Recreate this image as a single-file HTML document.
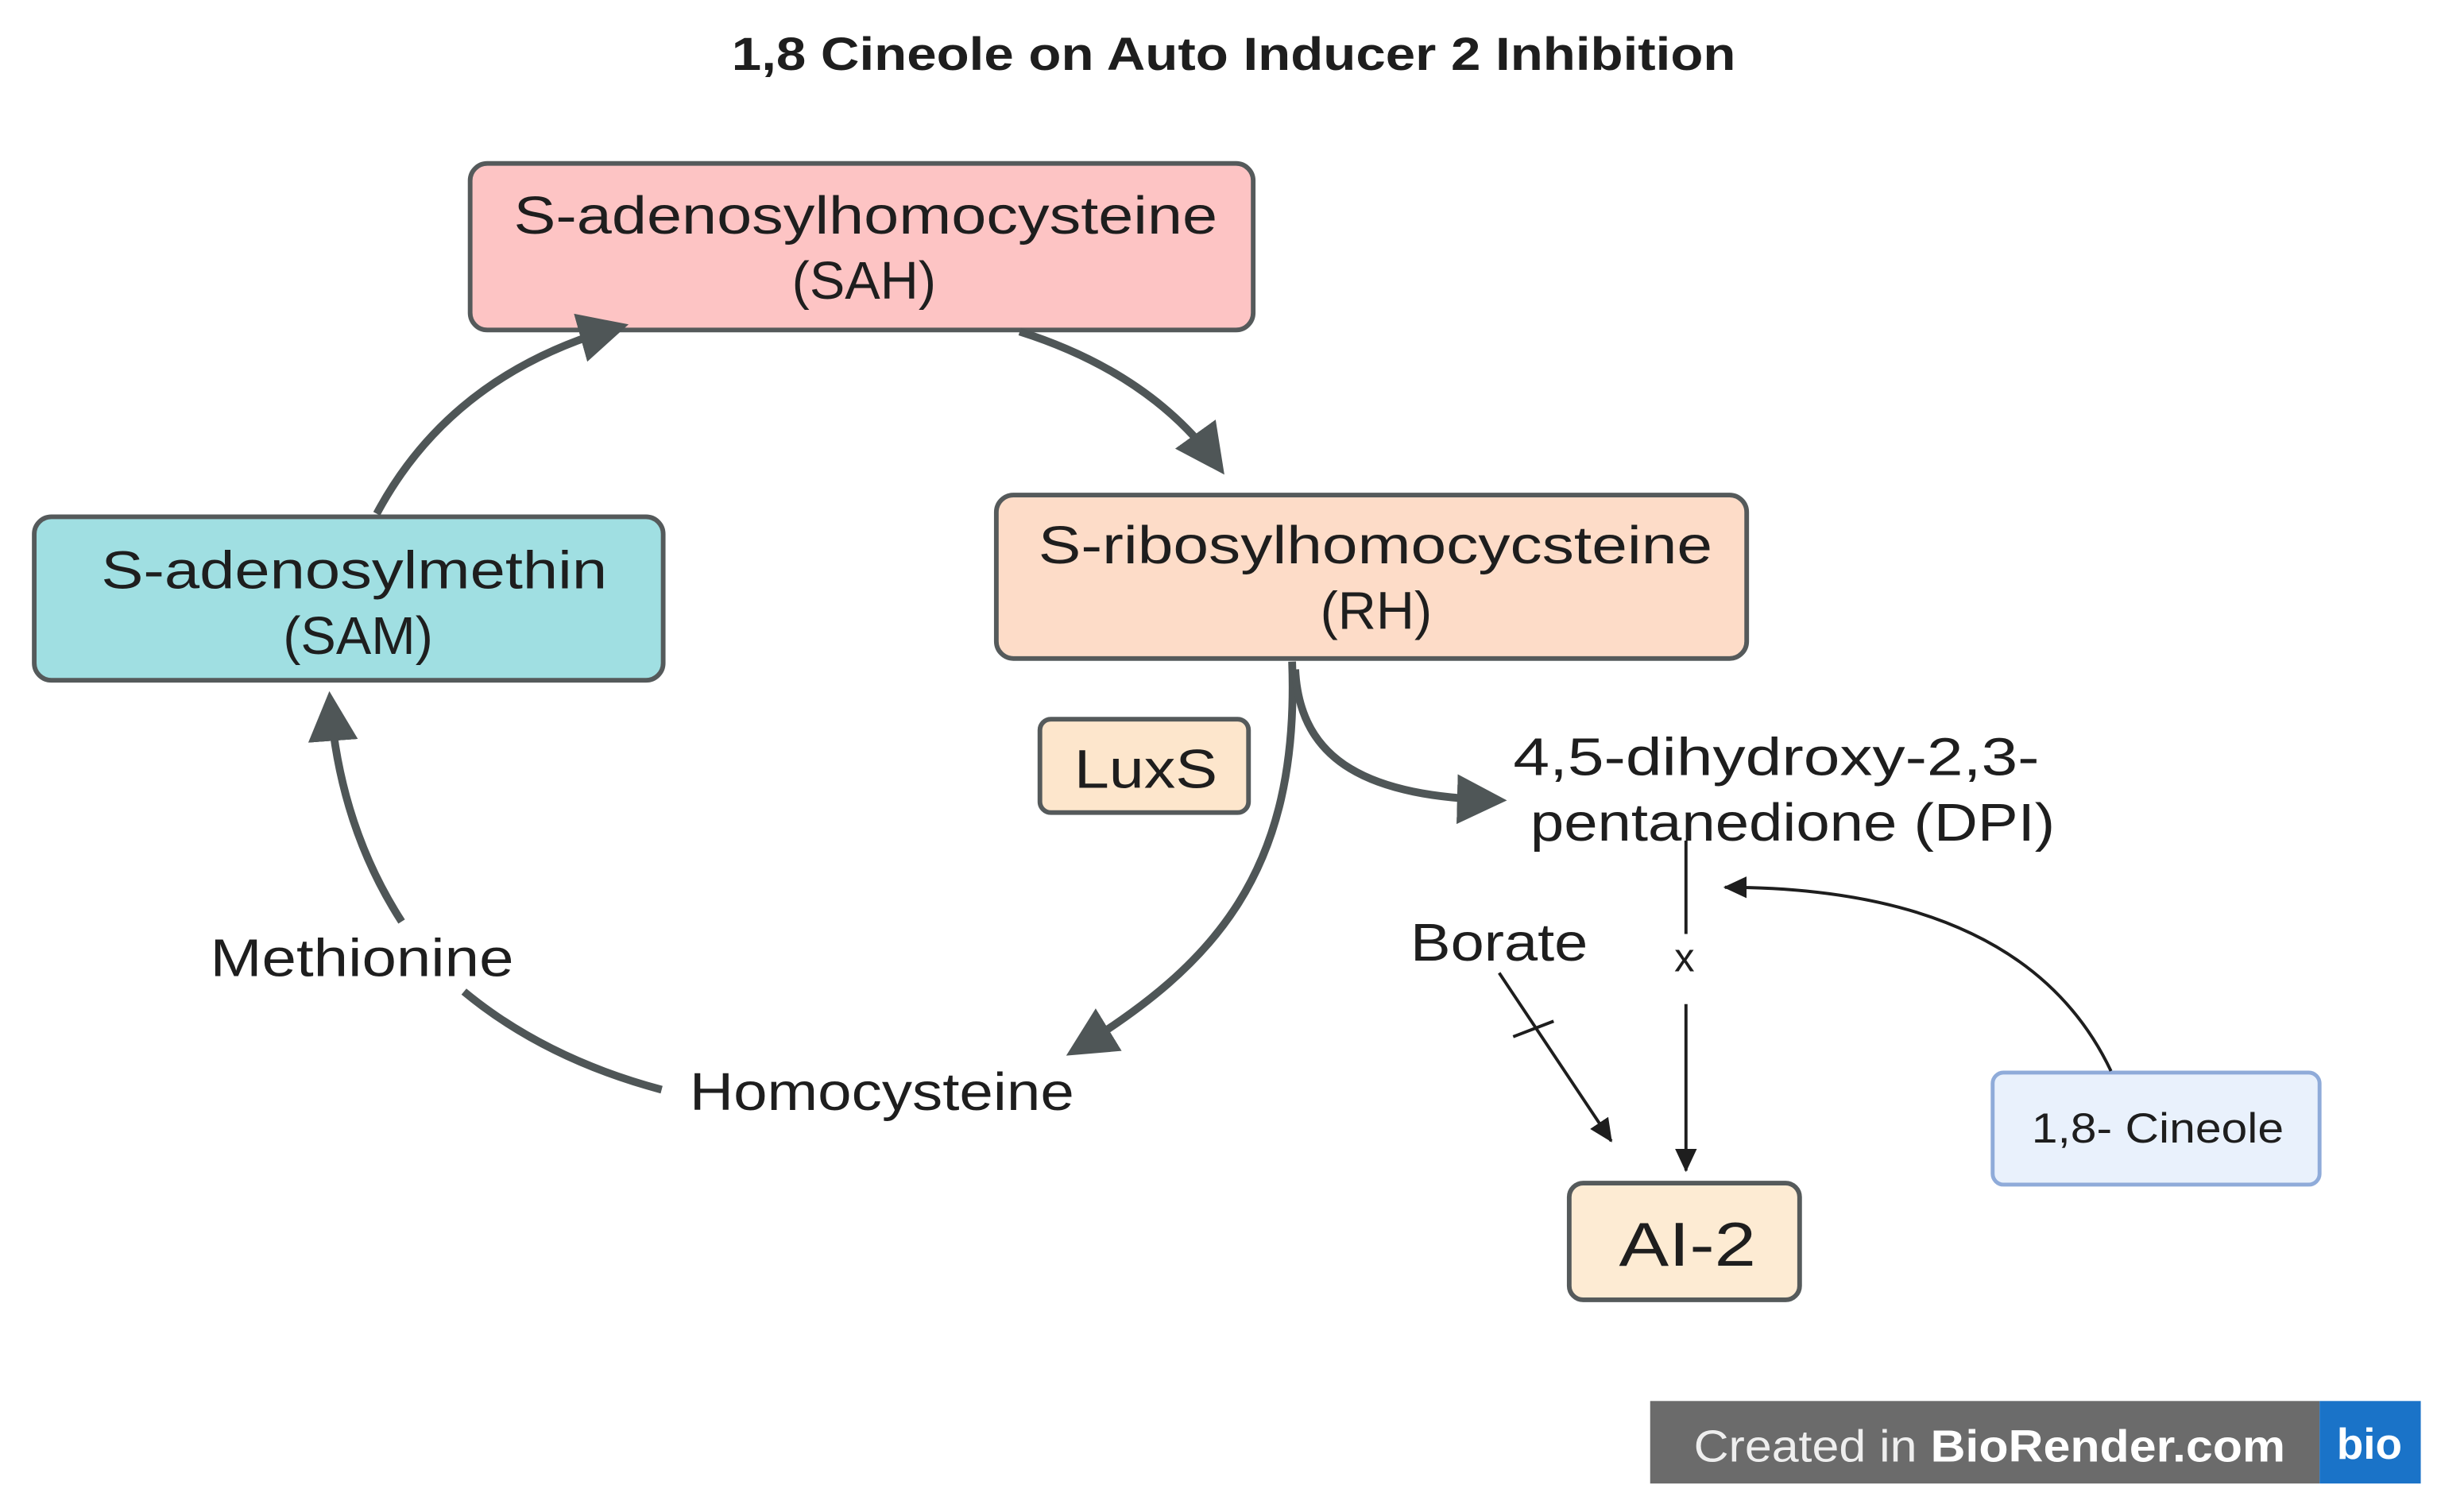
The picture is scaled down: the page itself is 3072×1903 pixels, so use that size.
<!DOCTYPE html>
<html><head><meta charset="utf-8"><style>
html,body{margin:0;padding:0;background:#fff;}
svg{display:block;}
text{font-family:"Liberation Sans",sans-serif;fill:#1e1e1e;}
</style></head><body>
<svg width="3072" height="1903" viewBox="0 0 1568 971.3" preserveAspectRatio="none" xmlns="http://www.w3.org/2000/svg">
<defs>
<marker id="big" markerUnits="userSpaceOnUse" markerWidth="40" markerHeight="40" refX="26" refY="16" orient="auto"><path d="M0,0 L32,16 L0,32 Z" fill="#4f5657"/></marker>
<marker id="sm" markerUnits="userSpaceOnUse" markerWidth="20" markerHeight="20" refX="14" refY="7" orient="auto"><path d="M0,0 L15,7 L0,14 Z" fill="#1e1e1e"/></marker>
</defs>
<text x="470" y="45" font-size="30" font-weight="bold" textLength="645" lengthAdjust="spacingAndGlyphs">1,8 Cineole on Auto Inducer 2 Inhibition</text>

<rect x="302" y="105" width="503" height="107" rx="11" fill="#fdc4c4" stroke="#555a5b" stroke-width="3"/>
<text x="330" y="150" font-size="34" textLength="452" lengthAdjust="spacingAndGlyphs">S-adenosylhomocysteine</text>
<text x="555" y="192" font-size="34" text-anchor="middle">(SAH)</text>

<rect x="22" y="332" width="404" height="105" rx="11" fill="#a0dfe2" stroke="#555a5b" stroke-width="3"/>
<text x="65" y="378" font-size="34" textLength="325" lengthAdjust="spacingAndGlyphs">S-adenosylmethin</text>
<text x="230" y="420" font-size="34" text-anchor="middle">(SAM)</text>

<rect x="640" y="318" width="482" height="105" rx="11" fill="#fddcc8" stroke="#555a5b" stroke-width="3"/>
<text x="667" y="362" font-size="34" textLength="433" lengthAdjust="spacingAndGlyphs">S-ribosylhomocycsteine</text>
<text x="884" y="404" font-size="34" text-anchor="middle">(RH)</text>

<rect x="668" y="462" width="134" height="60" rx="7" fill="#fde6cc" stroke="#555a5b" stroke-width="3"/>
<text x="690" y="506" font-size="35" textLength="92" lengthAdjust="spacingAndGlyphs">LuxS</text>

<text x="972" y="498" font-size="34" textLength="338" lengthAdjust="spacingAndGlyphs">4,5-dihydroxy-2,3-</text>
<text x="983" y="540" font-size="34" textLength="337" lengthAdjust="spacingAndGlyphs">pentanedione (DPI)</text>
<text x="906" y="617" font-size="34" textLength="114" lengthAdjust="spacingAndGlyphs">Borate</text>
<text x="1082" y="624" font-size="26" text-anchor="middle">x</text>
<text x="135" y="627" font-size="34" textLength="195" lengthAdjust="spacingAndGlyphs">Methionine</text>
<text x="443" y="713" font-size="34" textLength="247" lengthAdjust="spacingAndGlyphs">Homocysteine</text>

<rect x="1008" y="760" width="148" height="75" rx="9" fill="#fdebd3" stroke="#555a5b" stroke-width="3"/>
<text x="1040" y="813" font-size="40" textLength="88" lengthAdjust="spacingAndGlyphs">AI-2</text>

<rect x="1280" y="689" width="210" height="72" rx="7" fill="#e9f1fc" stroke="#8fabd9" stroke-width="2.5"/>
<text x="1305" y="734" font-size="27" textLength="162" lengthAdjust="spacingAndGlyphs">1,8- Cineole</text>

<g fill="none" stroke="#4f5657" stroke-width="5">
<path d="M242,330 Q290,240 398,210" marker-end="url(#big)"/>
<path d="M655,213 Q740,240 783,300" marker-end="url(#big)"/>
<path d="M830,425 C835,560 780,620 690,675" marker-end="url(#big)"/>
<path d="M832,430 C835,490 880,512 962,514" marker-end="url(#big)"/>
<path d="M425,700 Q350,680 298,637"/>
<path d="M258,592 Q218,530 212,450" marker-end="url(#big)"/>
</g>
<g fill="none" stroke="#1e1e1e" stroke-width="2">
<path d="M1083,540 L1083,600"/>
<path d="M1083,645 L1083,752" marker-end="url(#sm)"/>
<path d="M963,625 L1035,733" marker-end="url(#sm)"/>
<path d="M972,666 L998,656"/>
<path d="M1356,688 Q1300,570 1108,570" marker-end="url(#sm)"/>
</g>

<rect x="1060" y="900" width="430" height="53" fill="#6b6b6b"/>
<rect x="1490" y="900" width="65" height="53" fill="#1a73c8"/>
<text x="1088" y="939" font-size="29" textLength="380" lengthAdjust="spacingAndGlyphs" style="fill:#eeeeee">Created in <tspan font-weight="bold" style="fill:#fff">BioRender.com</tspan></text>
<text x="1522" y="937" font-size="28" font-weight="bold" text-anchor="middle" style="fill:#fff">bio</text>
</svg>
</body></html>
